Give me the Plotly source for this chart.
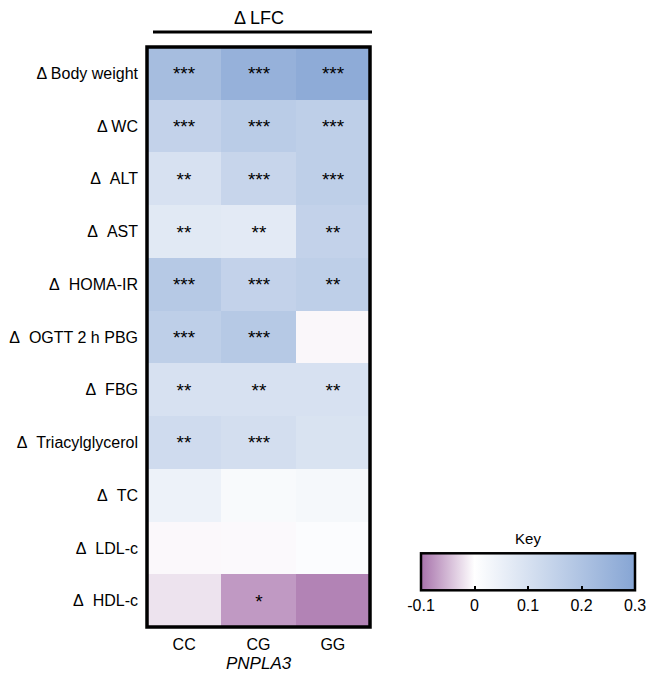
import plotly.graph_objects as go

genotypes = ["CC", "CG", "GG"]
traits = ["Δ Body weight", "Δ WC", "Δ\u00a0 ALT", "Δ\u00a0 AST", "Δ\u00a0 HOMA-IR",
          "Δ\u00a0 OGTT 2 h PBG", "Δ\u00a0 FBG", "Δ\u00a0 Triacylglycerol", "Δ\u00a0 TC",
          "Δ\u00a0 LDL-c", "Δ\u00a0 HDL-c"]
values = [
    [0.22, 0.26, 0.28],
    [0.15, 0.17, 0.16],
    [0.10, 0.14, 0.16],
    [0.075, 0.07, 0.15],
    [0.18, 0.15, 0.16],
    [0.16, 0.18, -0.006],
    [0.10, 0.10, 0.10],
    [0.12, 0.11, 0.095],
    [0.045, 0.018, 0.025],
    [-0.005, -0.004, 0.01],
    [-0.02, -0.072, -0.088],
]
signif = [
    ["***", "***", "***"],
    ["***", "***", "***"],
    ["**", "***", "***"],
    ["**", "**", "**"],
    ["***", "***", "**"],
    ["***", "***", ""],
    ["**", "**", "**"],
    ["**", "***", ""],
    ["", "", ""],
    ["", "", ""],
    ["", "*", ""],
]
key_ticks = [-0.1, 0, 0.1, 0.2, 0.3]

W, H = 646, 676
x0, x1, y0, y1 = 147, 370, 47, 627
FONT = "Liberation Sans"

colorscale = [[0.0, "#a772ab"], [0.25, "#ffffff"], [1.0, "#86a5d4"]]

fig = go.Figure(go.Heatmap(
    z=values, x=genotypes, y=traits, zmin=-0.1, zmax=0.3,
    colorscale=colorscale, xgap=0, ygap=0,
    text=signif, texttemplate="%{text}",
    textfont=dict(size=19, color="black", family=FONT),
    hoverinfo="skip",
    colorbar=dict(
        orientation="h", thickness=37, thicknessmode="pixels",
        len=214, lenmode="pixels",
        x=(421 + 635) / 2 / W, xanchor="center", xpad=0, ypad=0,
        y=1 - 621 / H, yanchor="bottom",
        outlinewidth=2.5, outlinecolor="black",
        tickvals=key_ticks, ticktext=[f"{t:g}" for t in key_ticks],
        ticklabeloverflow="allow",
        ticks="inside", ticklen=5, tickwidth=2, tickcolor="black",
        tickfont=dict(size=16, color="black", family=FONT),
        title=dict(text="Key", side="top", font=dict(size=15, color="black", family=FONT)),
    ),
))

fig.update_layout(
    width=W, height=H, margin=dict(l=0, r=0, t=0, b=0),
    paper_bgcolor="white", plot_bgcolor="white",
    font=dict(family=FONT, color="black"),
    xaxis=dict(domain=[x0 / W, x1 / W], side="bottom", showgrid=False, zeroline=False,
               ticks="", ticklabelstandoff=6, tickfont=dict(size=16), fixedrange=True),
    yaxis=dict(domain=[1 - y1 / H, 1 - y0 / H], autorange="reversed", showgrid=False,
               zeroline=False, ticks="", ticklabelstandoff=8, tickfont=dict(size=16), fixedrange=True),
    shapes=[
        dict(type="rect", xref="paper", yref="paper", x0=x0 / W, x1=x1 / W,
             y0=1 - y1 / H, y1=1 - y0 / H, line=dict(color="black", width=3.5)),
        dict(type="line", xref="paper", yref="paper", x0=153 / W, x1=372 / W,
             y0=1 - 32 / H, y1=1 - 32 / H, line=dict(color="black", width=3)),
    ],
    annotations=[
        dict(text="Δ LFC", xref="paper", yref="paper", x=(x0 + x1) / 2 / W, y=1 - 18 / H,
             showarrow=False, font=dict(size=18), yanchor="middle"),
        dict(text="<i>PNPLA3</i>", xref="paper", yref="paper", x=(x0 + x1) / 2 / W, y=1 - 663 / H,
             showarrow=False, font=dict(size=17), yanchor="middle"),
    ],
)

fig.write_html("out.html")
